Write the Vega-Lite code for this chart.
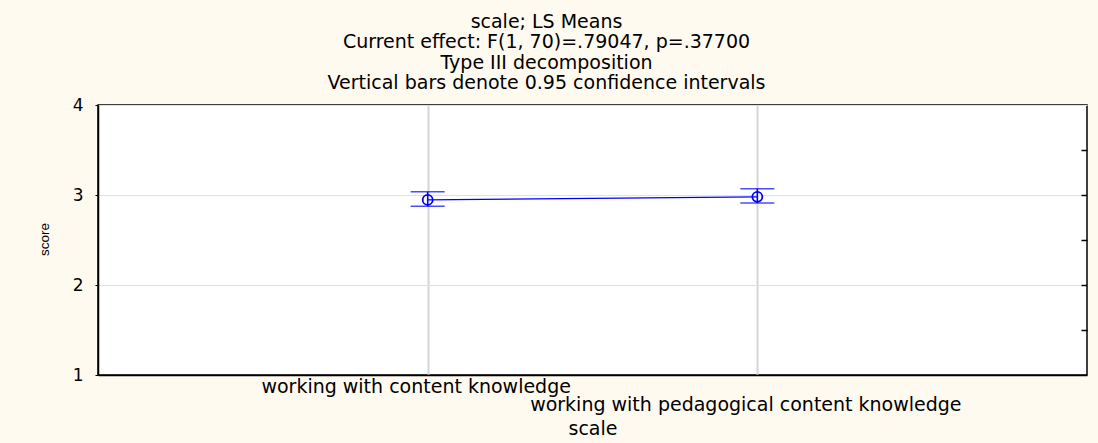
{
  "$schema": "https://vega.github.io/schema/vega-lite/v6.json",
  "width": 989,
  "height": 270,
  "autosize": {"type": "none"},
  "padding": {"left": 98, "top": 105, "right": 11, "bottom": 68},
  "background": "#fffaf0",
  "config": {
    "view": {"stroke": "black", "strokeWidth": 1.5, "fill": "white"},
    "font": "DejaVu Sans"
  },
  "title": {
    "text": ["scale; LS Means", "Current effect: F(1, 70)=.79047, p=.37700", "Type III decomposition", "Vertical bars denote 0.95 confidence intervals"],
    "font": "DejaVu Sans",
    "fontSize": 19,
    "fontWeight": "normal",
    "color": "black",
    "lineHeight": 20.5,
    "anchor": "middle",
    "frame": "group",
    "baseline": "bottom",
    "offset": 12,
    "dy": 28,
    "dx": -46
  },
  "data": {
    "values": [
      {"scale": "working with content knowledge", "mean": 2.945, "lo": 2.875, "hi": 3.035},
      {"scale": "working with pedagogical content knowledge", "mean": 2.98, "lo": 2.91, "hi": 3.07}
    ]
  },
  "encoding": {
    "x": {
      "field": "scale",
      "type": "nominal",
      "sort": null,
      "scale": {"type": "point", "padding": 1},
      "axis": {
        "title": "scale",
        "titleFont": "DejaVu Sans",
        "titleFontSize": 19,
        "titleFontWeight": "normal",
        "titleColor": "black",
        "titleBaseline": "alphabetic",
        "titleY": 59,
        "labelAngle": 0,
        "labelFont": "DejaVu Sans",
        "labelFontSize": 19,
        "labelColor": "black",
        "labelBaseline": "alphabetic",
        "labelOffset": -12,
        "labelPadding": {"condition": {"test": "datum.value === 'working with pedagogical content knowledge'", "value": 35}, "value": 17},
        "labelOverlap": false,
        "labelLimit": 0,
        "ticks": false,
        "tickSize": 0,
        "domain": true,
        "domainColor": "black",
        "domainWidth": 1.5,
        "grid": true,
        "gridColor": "#d6d6d6",
        "gridWidth": 2
      }
    }
  },
  "layer": [
    {
      "mark": {"type": "rule", "opacity": 0},
      "encoding": {
        "y": {
          "field": "mean",
          "type": "quantitative",
          "scale": {"domain": [1, 4], "nice": false, "zero": false},
          "axis": {
            "orient": "left",
            "title": "score",
            "titleFont": "Liberation Sans",
            "titleFontSize": 13.5,
            "titleFontWeight": "normal",
            "titleColor": "black",
            "titleAngle": 270,
            "titleBaseline": "middle",
            "titleAlign": "center",
            "titleX": -54,
            "titleY": 134,
            "values": [1, 2, 3, 4],
            "labelFont": "DejaVu Sans",
            "labelFontSize": 17,
            "labelColor": "black",
            "labelPadding": 12,
            "labelBaseline": "middle",
            "tickSize": 3,
            "tickColor": "black",
            "domain": true,
            "domainColor": "black",
            "domainWidth": 1.5,
            "grid": true,
            "gridColor": "#e0e0e0",
            "gridWidth": 1
          }
        }
      }
    },
    {
      "mark": {"type": "rule", "opacity": 0},
      "encoding": {
        "y": {
          "field": "mean",
          "type": "quantitative",
          "scale": {"domain": [1, 4], "nice": false, "zero": false},
          "axis": {
            "orient": "right",
            "values": [1.5, 2, 2.5, 3, 3.5],
            "labels": false,
            "domain": false,
            "grid": false,
            "ticks": true,
            "tickSize": -6,
            "tickColor": "black",
            "tickWidth": 1.5,
            "title": null
          }
        }
      }
    },
    {
      "mark": {"type": "line", "color": "#0000ff", "strokeWidth": 1.2},
      "encoding": {
        "y": {"field": "mean", "type": "quantitative", "scale": {"domain": [1, 4], "nice": false, "zero": false}, "axis": null}
      }
    },
    {
      "mark": {"type": "rule", "color": "#0000ff", "strokeWidth": 1.5},
      "encoding": {
        "y": {"field": "lo", "type": "quantitative", "scale": {"domain": [1, 4], "nice": false, "zero": false}, "axis": null},
        "y2": {"field": "hi"}
      }
    },
    {
      "mark": {"type": "tick", "color": "#0000ff", "size": 34, "thickness": 1.5},
      "encoding": {
        "y": {"field": "lo", "type": "quantitative", "scale": {"domain": [1, 4], "nice": false, "zero": false}, "axis": null}
      }
    },
    {
      "mark": {"type": "tick", "color": "#0000ff", "size": 34, "thickness": 1.5},
      "encoding": {
        "y": {"field": "hi", "type": "quantitative", "scale": {"domain": [1, 4], "nice": false, "zero": false}, "axis": null}
      }
    },
    {
      "mark": {"type": "point", "shape": "circle", "filled": false, "color": "#0000ff", "size": 100, "strokeWidth": 1.8, "opacity": 1},
      "encoding": {
        "y": {"field": "mean", "type": "quantitative", "scale": {"domain": [1, 4], "nice": false, "zero": false}, "axis": null}
      }
    }
  ],
  "resolve": {"scale": {"y": "independent"}, "axis": {"y": "independent"}}
}
